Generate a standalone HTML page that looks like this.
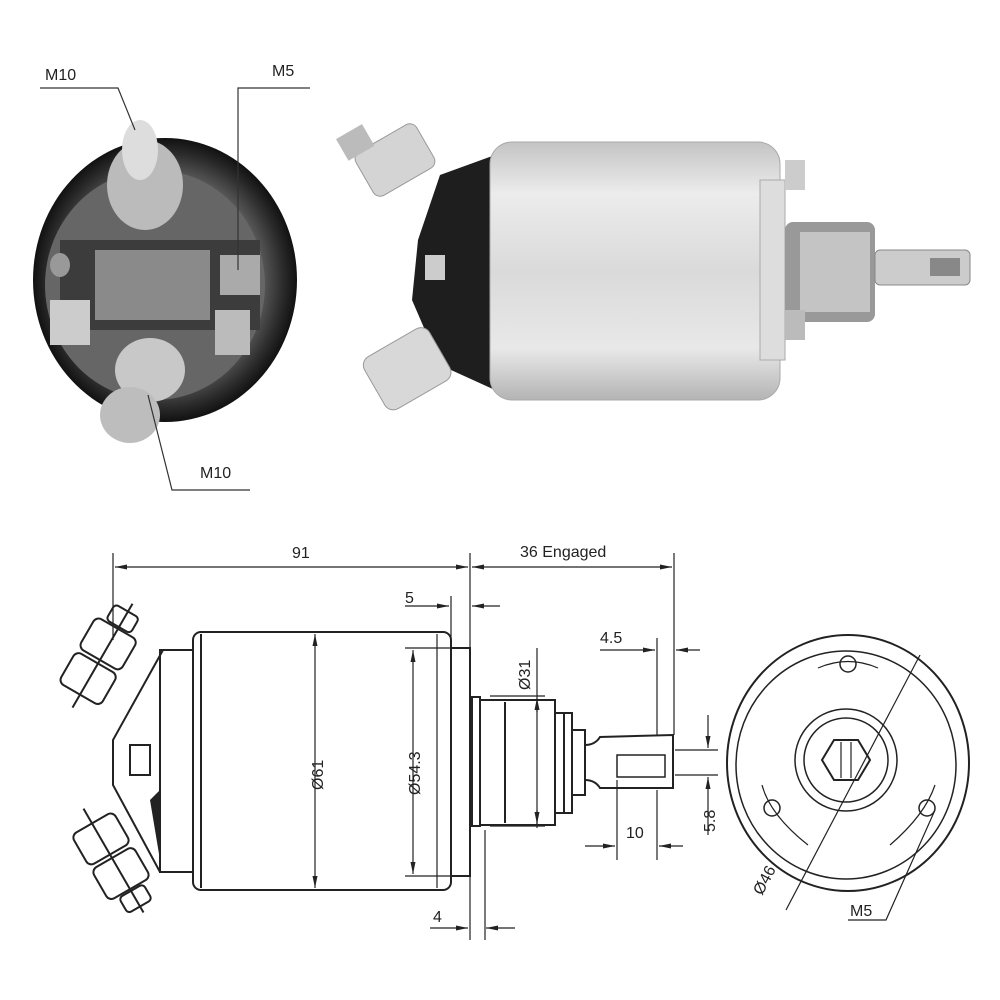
<!DOCTYPE html>
<html><head><style>
html,body{margin:0;padding:0;background:#fff;width:1000px;height:1000px;overflow:hidden}
svg{display:block}
text{font-family:"Liberation Sans",sans-serif;fill:#222}
</style></head><body>
<svg width="1000" height="1000" viewBox="0 0 1000 1000" xmlns="http://www.w3.org/2000/svg">
<defs>
<linearGradient id="cyl" x1="0" y1="0" x2="0" y2="1">
<stop offset="0" stop-color="#c4c4c4"/><stop offset="0.2" stop-color="#ececec"/><stop offset="0.5" stop-color="#dadada"/><stop offset="0.8" stop-color="#e8e8e8"/><stop offset="1" stop-color="#b4b4b4"/>
</linearGradient>
<radialGradient id="dark" cx="0.5" cy="0.5" r="0.5">
<stop offset="0" stop-color="#8a8a8a"/><stop offset="0.75" stop-color="#555"/><stop offset="0.9" stop-color="#2a2a2a"/><stop offset="1" stop-color="#111"/>
</radialGradient>
<marker id="a" viewBox="0 0 12 6" refX="12" refY="3" markerWidth="10" markerHeight="5" orient="auto-start-reverse"><path d="M0,0.5 L12,3 L0,5.5z" fill="#222"/></marker>
</defs>

<!-- TOP LEFT PHOTO -->
<ellipse cx="165" cy="280" rx="132" ry="142" fill="url(#dark)"/>
<ellipse cx="155" cy="285" rx="110" ry="115" fill="#666"/>
<rect x="60" y="240" width="200" height="90" fill="#3c3c3c"/>
<rect x="95" y="250" width="115" height="70" fill="#8a8a8a"/>
<ellipse cx="145" cy="185" rx="38" ry="45" fill="#bbb"/>
<ellipse cx="140" cy="150" rx="18" ry="30" fill="#ddd"/>
<ellipse cx="150" cy="370" rx="35" ry="32" fill="#c8c8c8"/>
<ellipse cx="130" cy="415" rx="30" ry="28" fill="#bdbdbd"/>
<rect x="220" y="255" width="40" height="40" fill="#aaa"/>
<rect x="215" y="310" width="35" height="45" fill="#bbb"/>
<rect x="50" y="300" width="40" height="45" fill="#ccc"/>
<ellipse cx="60" cy="265" rx="10" ry="12" fill="#999"/>
<text x="45" y="80" font-size="16">M10</text>
<polyline points="40,88 118,88 135,130" fill="none" stroke="#333" stroke-width="1.2"/>
<text x="272" y="76" font-size="16">M5</text>
<polyline points="310,88 238,88 238,270" fill="none" stroke="#333" stroke-width="1.2"/>
<text x="200" y="478" font-size="16">M10</text>
<polyline points="250,490 172,490 148,395" fill="none" stroke="#333" stroke-width="1.2"/>

<!-- TOP RIGHT PHOTO -->
<polygon points="440,175 495,155 495,390 440,365 412,300 418,240" fill="#1e1e1e"/>
<rect x="490" y="142" width="290" height="258" rx="22" fill="url(#cyl)" stroke="#aaa"/>
<rect x="760" y="180" width="25" height="180" fill="#ddd" stroke="#aaa"/>
<rect x="785" y="222" width="90" height="100" rx="8" fill="#999"/>
<rect x="800" y="232" width="70" height="80" fill="#c4c4c4"/>
<rect x="875" y="250" width="95" height="35" rx="5" fill="#ccc" stroke="#888"/>
<rect x="930" y="258" width="30" height="18" fill="#888"/>
<rect x="785" y="160" width="20" height="30" fill="#ccc"/>
<rect x="785" y="310" width="20" height="30" fill="#bbb"/>
<g transform="rotate(-30 395 160)"><rect x="360" y="135" width="70" height="50" rx="8" fill="#d4d4d4" stroke="#999"/></g>
<rect x="340" y="130" width="30" height="25" fill="#bbb" transform="rotate(-30 355 142)"/>
<g transform="rotate(-30 405 370)"><rect x="370" y="340" width="75" height="60" rx="10" fill="#d8d8d8" stroke="#999"/></g>
<rect x="425" y="255" width="20" height="25" fill="#ccc"/>

<!-- BOTTOM LEFT DRAWING -->
<g fill="none" stroke="#222" stroke-width="2">
<line x1="113" y1="553" x2="113" y2="640" stroke-width="1.2"/>
<line x1="470" y1="553" x2="470" y2="940" stroke-width="1.2"/>
<line x1="674" y1="553" x2="674" y2="735" stroke-width="1.2"/>
<line x1="115" y1="567" x2="468" y2="567" stroke-width="1.2" marker-start="url(#a)" marker-end="url(#a)"/>
<line x1="472" y1="567" x2="672" y2="567" stroke-width="1.2" marker-start="url(#a)" marker-end="url(#a)"/>
<line x1="451" y1="596" x2="451" y2="640" stroke-width="1.2"/>
<line x1="405" y1="606" x2="449" y2="606" stroke-width="1.2" marker-end="url(#a)"/>
<line x1="500" y1="606" x2="472" y2="606" stroke-width="1.2" marker-end="url(#a)"/>
<line x1="430" y1="928" x2="468" y2="928" stroke-width="1.2" marker-end="url(#a)"/>
<line x1="515" y1="928" x2="486" y2="928" stroke-width="1.2" marker-end="url(#a)"/>
<line x1="485" y1="830" x2="485" y2="940" stroke-width="1.2"/>

<rect x="193" y="632" width="258" height="258" rx="8"/>
<line x1="201" y1="634" x2="201" y2="888"/>
<line x1="437" y1="634" x2="437" y2="888" stroke-width="1.2"/>
<rect x="451" y="648" width="19" height="228"/>
<rect x="160" y="650" width="33" height="222"/>
<polyline points="163,650 113,740 113,785 160,872"/>
<g transform="rotate(-60 100 660)"><rect x="60" y="635" width="36" height="48" rx="6"/><rect x="100" y="635" width="36" height="48" rx="6"/><rect x="138" y="645" width="18" height="28" rx="4"/><line x1="45" y1="660" x2="165" y2="660"/></g>
<g transform="rotate(60 112 858)"><rect x="72" y="834" width="36" height="48" rx="6"/><rect x="112" y="834" width="36" height="48" rx="6"/><rect x="150" y="844" width="18" height="28" rx="4"/><line x1="55" y1="858" x2="175" y2="858"/></g>
<rect x="130" y="745" width="20" height="30"/>
</g>
<polygon points="150,800 160,790 160,860" fill="#222"/>
<g fill="none" stroke="#222" stroke-width="1.2">
<line x1="315" y1="634" x2="315" y2="888" marker-start="url(#a)" marker-end="url(#a)"/>
<line x1="405" y1="648" x2="450" y2="648"/>
<line x1="405" y1="876" x2="450" y2="876"/>
<line x1="413" y1="650" x2="413" y2="874" marker-start="url(#a)" marker-end="url(#a)"/>
</g>

<!-- plunger -->
<g fill="none" stroke="#222" stroke-width="2">
<rect x="472" y="697" width="8" height="129"/>
<rect x="480" y="700" width="75" height="125"/>
<line x1="505" y1="702" x2="505" y2="823"/>
<rect x="555" y="713" width="9" height="100"/>
<rect x="564" y="713" width="8" height="100"/>
<rect x="572" y="730" width="13" height="65"/>
<path d="M585,745 Q595,745 600,737 L673,735 L673,788 L600,788 Q595,780 585,780"/>
<rect x="617" y="755" width="48" height="22" stroke-width="1.5"/>
</g>
<g fill="none" stroke="#222" stroke-width="1.2">
<line x1="490" y1="696" x2="545" y2="696"/><line x1="490" y1="826" x2="545" y2="826"/>
<line x1="537" y1="648" x2="537" y2="828"/>
<line x1="537" y1="712" x2="537" y2="698" marker-end="url(#a)"/>
<line x1="537" y1="810" x2="537" y2="824" marker-end="url(#a)"/>
<line x1="657" y1="638" x2="657" y2="735"/>
<line x1="600" y1="650" x2="655" y2="650" marker-end="url(#a)"/>
<line x1="700" y1="650" x2="676" y2="650" marker-end="url(#a)"/>
<line x1="617" y1="780" x2="617" y2="860"/><line x1="657" y1="790" x2="657" y2="860"/>
<line x1="585" y1="846" x2="615" y2="846" marker-end="url(#a)"/>
<line x1="683" y1="846" x2="659" y2="846" marker-end="url(#a)"/>
<line x1="675" y1="750" x2="718" y2="750"/><line x1="675" y1="775" x2="718" y2="775"/>
<line x1="708" y1="715" x2="708" y2="748" marker-end="url(#a)"/>
<line x1="708" y1="835" x2="708" y2="777" marker-end="url(#a)"/>
</g>

<!-- end view -->
<g fill="none" stroke="#222" stroke-width="2">
<ellipse cx="848" cy="763" rx="121" ry="128"/>
<ellipse cx="846" cy="765" rx="110" ry="114" stroke-width="1.5"/>
<circle cx="846" cy="760" r="51" stroke-width="1.5"/>
<circle cx="846" cy="760" r="42" stroke-width="1.5"/>
<polygon points="822,760 834,740 858,740 870,760 858,780 834,780"/>
<line x1="841" y1="742" x2="841" y2="778" stroke-width="1.2"/><line x1="851" y1="742" x2="851" y2="778" stroke-width="1.2"/>
<circle cx="848" cy="664" r="8" stroke-width="1.5"/>
<circle cx="772" cy="808" r="8" stroke-width="1.5"/>
<circle cx="927" cy="808" r="8" stroke-width="1.5"/>
<path d="M818,668 Q848,655 878,668" stroke-width="1.2"/>
<path d="M762,785 Q770,815 808,845" stroke-width="1.2"/>
<path d="M935,785 Q925,815 890,845" stroke-width="1.2"/>
<line x1="920" y1="655" x2="786" y2="910" stroke-width="1.2"/>
<polyline points="935,810 886,920 848,920" stroke-width="1.2"/>
</g>

<text x="292" y="558" font-size="16">91</text>
<text x="520" y="557" font-size="16">36 Engaged</text>
<text x="405" y="603" font-size="16">5</text>
<text x="433" y="922" font-size="16">4</text>
<text x="600" y="643" font-size="16">4.5</text>
<text x="626" y="838" font-size="16">10</text>
<text font-size="16" transform="translate(323,790) rotate(-90)">Ø61</text>
<text font-size="16" transform="translate(420,795) rotate(-90)">Ø54.3</text>
<text font-size="16" transform="translate(530,690) rotate(-90)">Ø31</text>
<text font-size="16" transform="translate(715,832) rotate(-90)">5.8</text>
<text font-size="16" transform="translate(762,896) rotate(-62)">Ø46</text>
<text x="850" y="916" font-size="16">M5</text>
</svg>
</body></html>
